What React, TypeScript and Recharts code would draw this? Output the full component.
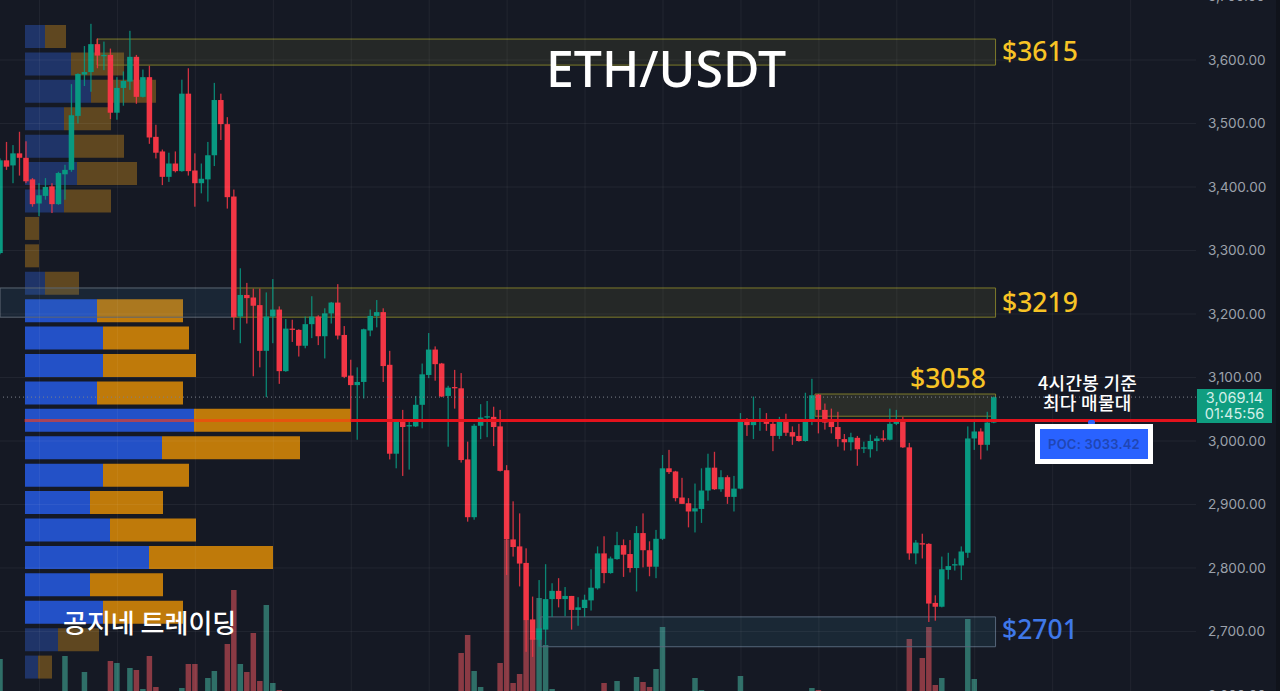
import { Bar, Cell, ComposedChart, ReferenceArea, ReferenceLine, XAxis, YAxis } from 'recharts';

const opens = [
  3296, 3442, 3434, 3453, 3446, 3412, 3374, 3386, 3401, 3373,
  3420, 3427, 3512, 3577, 3581, 3625, 3606, 3608, 3517, 3556,
  3566, 3605, 3542, 3573, 3479, 3456, 3416, 3437, 3425, 3547,
  3426, 3406, 3412, 3450, 3537, 3499, 3385, 3196, 3230, 3226,
  3214, 3142, 3196, 3207, 3110, 3177, 3175, 3150, 3184, 3196,
  3165, 3201, 3218, 3167, 3103, 3088, 3093, 3174, 3197, 3203,
  3120, 2980, 3032, 3024, 3023, 3057, 3104, 3144, 3122, 3071,
  3085, 3083, 2971, 2880, 3024, 3038, 3038, 3023, 2954, 2845,
  2834, 2808, 2719, 2687, 2703, 2751, 2764, 2751, 2756, 2734,
  2737, 2749, 2768, 2823, 2792, 2814, 2836, 2822, 2800, 2855,
  2828, 2802, 2846, 2957, 2952, 2911, 2902, 2889, 2893, 2922,
  2958, 2924, 2943, 2912, 2925, 3032, 3025, 3031, 3033, 3027,
  3008, 3031, 3014, 3008, 3000, 3032, 3073, 3049, 3030, 3022,
  3003, 2998, 3005, 2988, 2987, 3000, 3004, 3002, 3027, 3033,
  2990, 2823, 2839, 2838, 2745, 2739, 2797, 2805, 2804, 2824,
  3004, 3015, 2994, 3029,
];
const highs = [
  3445, 3471, 3466, 3487, 3472, 3414, 3406, 3414, 3406, 3424,
  3435, 3562, 3579, 3622, 3657, 3634, 3629, 3618, 3573, 3582,
  3646, 3608, 3585, 3591, 3498, 3459, 3454, 3456, 3569, 3587,
  3453, 3437, 3471, 3564, 3547, 3510, 3396, 3272, 3249, 3240,
  3240, 3234, 3255, 3212, 3192, 3191, 3176, 3196, 3228, 3198,
  3209, 3219, 3247, 3181, 3128, 3116, 3177, 3207, 3222, 3209,
  3142, 3032, 3049, 3030, 3071, 3122, 3170, 3149, 3123, 3087,
  3112, 3107, 2999, 3027, 3058, 3063, 3054, 3049, 2962, 2905,
  2886, 2831, 2755, 2781, 2806, 2776, 2784, 2770, 2756, 2754,
  2758, 2798, 2834, 2850, 2818, 2857, 2845, 2844, 2866, 2886,
  2842, 2860, 2978, 2986, 2953, 2942, 2910, 2933, 2957, 2980,
  2983, 2954, 2946, 2945, 3044, 3036, 3070, 3052, 3044, 3030,
  3038, 3043, 3023, 3027, 3076, 3098, 3074, 3059, 3051, 3046,
  3011, 3013, 3008, 2999, 3010, 3008, 3017, 3051, 3049, 3038,
  2997, 2844, 2854, 2839, 2757, 2818, 2824, 2815, 2834, 3023,
  3032, 3020, 3046, 3070,
];
const lows = [
  3294, 3427, 3406, 3418, 3406, 3369, 3354, 3380, 3359, 3372,
  3380, 3424, 3500, 3559, 3550, 3587, 3584, 3507, 3506, 3528,
  3553, 3531, 3541, 3468, 3445, 3403, 3408, 3423, 3424, 3418,
  3369, 3390, 3377, 3433, 3474, 3366, 3175, 3154, 3185, 3102,
  3116, 3069, 3154, 3090, 3109, 3156, 3133, 3146, 3162, 3151,
  3130, 3185, 3160, 3099, 3033, 3002, 3067, 3165, 3179, 3093,
  2971, 2957, 2945, 2955, 3022, 3020, 3099, 3095, 3069, 2991,
  3051, 2966, 2873, 2876, 3003, 3006, 2992, 2952, 2789, 2818,
  2771, 2668, 2660, 2676, 2679, 2723, 2738, 2724, 2703, 2709,
  2723, 2733, 2766, 2776, 2791, 2813, 2786, 2793, 2763, 2801,
  2787, 2784, 2844, 2948, 2905, 2901, 2864, 2856, 2871, 2906,
  2923, 2920, 2901, 2889, 2924, 3008, 3003, 3016, 3016, 2984,
  3003, 3008, 2994, 2999, 2999, 3025, 3012, 3018, 3012, 2991,
  2985, 2985, 2961, 2981, 2974, 2984, 2999, 3001, 3025, 2989,
  2813, 2806, 2815, 2715, 2717, 2738, 2782, 2796, 2781, 2816,
  2986, 2971, 2985, 3028,
];
const closes = [
  3442, 3432, 3453, 3446, 3409, 3373, 3387, 3400, 3373, 3422,
  3427, 3513, 3578, 3581, 3625, 3607, 3608, 3517, 3556, 3567,
  3605, 3542, 3573, 3478, 3454, 3416, 3437, 3425, 3547, 3425,
  3406, 3413, 3450, 3537, 3499, 3384, 3195, 3230, 3225, 3213,
  3142, 3196, 3207, 3110, 3177, 3175, 3150, 3184, 3196, 3165,
  3201, 3218, 3166, 3101, 3088, 3093, 3176, 3197, 3203, 3118,
  2980, 3030, 3022, 3025, 3057, 3105, 3144, 3121, 3070, 3084,
  3083, 2970, 2880, 3024, 3037, 3039, 3022, 2953, 2845, 2833,
  2807, 2718, 2687, 2705, 2751, 2764, 2751, 2756, 2734, 2738,
  2750, 2769, 2823, 2792, 2815, 2836, 2821, 2800, 2855, 2828,
  2802, 2846, 2957, 2951, 2910, 2901, 2889, 2894, 2922, 2958,
  2924, 2943, 2912, 2925, 3030, 3025, 3032, 3032, 3027, 3008,
  3030, 3013, 3007, 3000, 3032, 3072, 3049, 3029, 3022, 3003,
  2998, 3006, 2987, 2990, 3000, 3004, 3002, 3027, 3032, 2990,
  2823, 2840, 2837, 2744, 2739, 2798, 2803, 2806, 2826, 3004,
  3015, 2994, 3029, 3069,
];
const volumes = [
  72, 30, 28, 26, 30, 34, 28, 26, 30, 32,
  75, 38, 36, 59, 36, 32, 28, 70, 68, 30,
  63, 61, 42, 75, 44, 36, 28, 26, 43, 67,
  67, 30, 53, 60, 34, 87, 141, 67, 59, 98,
  50, 126, 48, 41, 36, 30, 28, 26, 30, 28,
  26, 28, 34, 36, 38, 34, 38, 30, 26, 38,
  38, 34, 30, 28, 32, 36, 34, 30, 32, 30,
  28, 78, 96, 60, 44, 30, 32, 68, 191, 48,
  57, 111, 93, 133, 86, 42, 30, 28, 32, 26,
  28, 34, 38, 48, 30, 50, 32, 30, 54, 49,
  44, 62, 104, 38, 34, 28, 30, 53, 41, 36,
  34, 30, 34, 30, 55, 32, 30, 24, 26, 28,
  26, 28, 24, 26, 34, 43, 41, 32, 30, 28,
  26, 24, 30, 22, 26, 22, 20, 34, 28, 36,
  92, 36, 73, 104, 46, 53, 32, 24, 36, 112,
  52, 34, 38, 36,
];

// volume profile, top row first
const profileBuy = [20, 46, 66, 39, 49, 52, 39, 0, 0, 20, 72, 78, 78, 72, 169, 137, 78, 65, 85, 124, 65, 78, 33, 13];
const profileSell = [21, 53, 65, 47, 50, 60, 47, 14, 14, 34, 86, 86, 93, 86, 157, 138, 86, 73, 86, 124, 73, 80, 41, 14];

const priceTicks = [2600, 2700, 2800, 2900, 3000, 3100, 3200, 3300, 3400, 3500, 3600, 3700];
const timeTicks = [6, 18, 30, 42, 54, 66, 78, 90, 102, 114, 126, 138, 150, 162, 174];

const lastPrice = 3069.14;
const pocLevel = 3032.2;

const zoneHigh = { top: 3633, bottom: 3592, from: 14.86, to: 153.2 };
const zoneMidLeft = { top: 3241, bottom: 3195, from: -0.07, to: 35.6 };
const zoneMid = { top: 3241, bottom: 3195, from: 35.6, to: 153.2 };
const zoneNear = { top: 3074, bottom: 3039, from: 125.4, to: 153.2 };
const zoneLow = { top: 2723, bottom: 2676, from: 83.1, to: 153.2 };

const candles = opens.map((open, i) => ({
  i,
  open,
  high: highs[i],
  low: lows[i],
  close: closes[i],
  volume: volumes[i],
}));
const profile = profileBuy.map((buy, i) => ({ row: i, buy, sell: profileSell[i] }));

const UP = '#089981';
const DOWN = '#f23645';
const GRID = 'rgba(255,255,255,0.055)';
const KR = '"Noto Sans CJK KR", "Noto Sans", sans-serif';
const LATIN = '"Noto Sans", sans-serif';
const X_DOMAIN = [-0.077, 184.06];

function Candle(props: any) {
  const { x, y, width, height, payload } = props;
  const { open, high, low, close } = payload;
  const color = close >= open ? UP : DOWN;
  const top = Math.min(y, y + height);
  const perPrice = Math.abs(height) / (high - low);
  const bodyTop = top + (high - Math.max(open, close)) * perPrice;
  const bodyH = Math.max(1.3, Math.abs(open - close) * perPrice);
  return (
    <g>
      <rect x={x + width / 2 - 0.65} y={top} width={1.3} height={Math.abs(height)} fill={color} opacity={0.85} />
      <rect x={x} y={bodyTop} width={width} height={bodyH} fill={color} />
    </g>
  );
}

function label(text: string, left: number, top: number, size: number, color: string, extra = {}) {
  return (
    <div
      style={{
        position: 'absolute',
        left,
        top,
        fontSize: size,
        lineHeight: 1,
        color,
        fontFamily: KR,
        whiteSpace: 'nowrap',
        ...extra,
      }}
    >
      {text}
    </div>
  );
}

export default function App() {
  return (
    <div style={{ position: 'absolute', left: 0, top: 0, width: 1280, height: 691, overflow: 'hidden', background: '#151924' }}>
      {/* volume profile sits under the candles */}
      <div style={{ position: 'absolute', left: 25, top: 23 }}>
        <ComposedChart
          width={420}
          height={658}
          data={profile}
          layout="vertical"
          margin={{ top: 0, right: 0, bottom: 0, left: 0 }}
          barCategoryGap={2}
        >
          <XAxis type="number" domain={[0, 420]} hide />
          <YAxis type="category" dataKey="row" hide />
          <Bar dataKey="buy" stackId="p" isAnimationActive={false}>
            {profile.map((d) => (
              <Cell key={d.row} fill={d.row < 10 || d.row > 21 ? '#1f3468' : '#2351c7'} />
            ))}
          </Bar>
          <Bar dataKey="sell" stackId="p" isAnimationActive={false}>
            {profile.map((d) => (
              <Cell key={d.row} fill={d.row < 10 || d.row > 21 ? '#5f4720' : '#bf7a0a'} />
            ))}
          </Bar>
        </ComposedChart>
      </div>

      {/* volume bars, own chart so they don't share a slot with the candles */}
      <div style={{ position: 'absolute', left: 0, top: -40 }}>
        <ComposedChart width={1280} height={771} data={candles} margin={{ top: 0, right: 84, bottom: 0, left: 0 }}>
          <XAxis dataKey="i" type="number" domain={X_DOMAIN} hide allowDataOverflow />
          <YAxis hide domain={[0, 771]} allowDataOverflow />
          <Bar dataKey="volume" barSize={5.5} isAnimationActive={false}>
            {candles.map((d) => (
              <Cell key={d.i} fill={d.close >= d.open ? '#2f6f68' : '#8a3a44'} />
            ))}
          </Bar>
        </ComposedChart>
      </div>

      <div style={{ position: 'absolute', left: 0, top: -40 }}>
        <ComposedChart width={1280} height={771} data={candles} margin={{ top: 0, right: 0, bottom: 0, left: 0 }}>
          <XAxis dataKey="i" type="number" domain={X_DOMAIN} hide allowDataOverflow />
          <YAxis
            orientation="right"
            width={84}
            domain={[2543.3, 3757.5]}
            ticks={priceTicks}
            allowDataOverflow
            axisLine={false}
            tickLine={false}
            tickMargin={6}
            tick={{ fill: '#9ca1ab', fontSize: 13.6, fontFamily: 'Inter' }}
            tickFormatter={(v: number) => v.toLocaleString('en-US', { minimumFractionDigits: 2 })}
          />

          {priceTicks.map((p) => (
            <ReferenceLine key={p} y={p} stroke={GRID} />
          ))}
          {timeTicks.map((t) => (
            <ReferenceLine key={t} x={t} stroke={GRID} />
          ))}

          <ReferenceArea x1={zoneHigh.from} x2={zoneHigh.to} y1={zoneHigh.bottom} y2={zoneHigh.top} fill="#8a8a40" fillOpacity={0.14} stroke="#7d7a2a" />
          <ReferenceArea x1={zoneMidLeft.from} x2={zoneMidLeft.to} y1={zoneMidLeft.bottom} y2={zoneMidLeft.top} fill="#3f6f9a" fillOpacity={0.15} stroke="#5c6672" />
          <ReferenceArea x1={zoneMid.from} x2={zoneMid.to} y1={zoneMid.bottom} y2={zoneMid.top} fill="#8a8a40" fillOpacity={0.14} stroke="#7d7a2a" />
          <ReferenceArea x1={zoneNear.from} x2={zoneNear.to} y1={zoneNear.bottom} y2={zoneNear.top} fill="#8a8a40" fillOpacity={0.18} stroke="#7d7a2a" />
          <ReferenceArea x1={zoneLow.from} x2={zoneLow.to} y1={zoneLow.bottom} y2={zoneLow.top} fill="#3f7f9a" fillOpacity={0.15} stroke="#56667a" />

          <ReferenceLine y={lastPrice} stroke="#7d828c" strokeDasharray="1 3" />
          <ReferenceLine
            segment={[{ x: 3.7, y: pocLevel }, { x: 53.9, y: pocLevel }]}
            stroke="#ff3c10"
            strokeOpacity={0.6}
            strokeWidth={3}
          />
          <ReferenceLine
            segment={[{ x: 53.9, y: pocLevel }, { x: 184.06, y: pocLevel }]}
            stroke="#e3121c"
            strokeWidth={3}
          />

          <Bar dataKey={(d: any) => [d.low, d.high]} barSize={5.5} shape={<Candle />} isAnimationActive={false} />
        </ComposedChart>
      </div>

      {label('ETH/USDT', 546, 43, 50, '#ffffff', { fontFamily: LATIN, fontWeight: 500 })}
      {label('$3615', 1002, 38, 26.5, '#f7c325', { fontFamily: LATIN, fontWeight: 500 })}
      {label('$3219', 1002, 289, 26.5, '#f7c325', { fontFamily: LATIN, fontWeight: 500 })}
      {label('$3058', 910, 365, 26.5, '#f7c325', { fontFamily: LATIN, fontWeight: 500 })}
      {label('$2701', 1002, 616, 26.5, '#3f78e8', { fontFamily: LATIN, fontWeight: 500 })}
      {label('4시간봉 기준', 1038, 373, 18, '#ffffff', { fontWeight: 500, letterSpacing: 0.3 })}
      {label('최다 매물대', 1043, 393, 18, '#ffffff', { fontWeight: 500, letterSpacing: 0.3 })}
      {label('공지네 트레이딩', 63, 609, 26, '#ffffff', { fontWeight: 500 })}

      <div style={{ position: 'absolute', left: 1088, top: 420, width: 7, height: 5, background: '#2962ff', borderRadius: 2 }} />
      <div
        style={{
          position: 'absolute',
          left: 1035,
          top: 424,
          width: 108,
          height: 30,
          border: '5px solid #ffffff',
          background: '#2962ff',
          color: '#2046b4',
          fontFamily: 'Inter',
          fontWeight: 600,
          fontSize: 13,
          letterSpacing: 0.2,
          lineHeight: '30px',
          textAlign: 'center',
        }}
      >
        POC: 3033.42
      </div>

      <div
        style={{
          position: 'absolute',
          left: 1197,
          top: 389,
          width: 75,
          height: 34,
          background: '#0f9d80',
          color: '#d3efe8',
          fontFamily: 'Inter',
          fontSize: 14.5,
          lineHeight: '15.5px',
          paddingTop: 1,
          textAlign: 'center',
          boxSizing: 'border-box',
        }}
      >
        3,069.14
        <br />
        01:45:56
      </div>
      <div style={{ position: 'absolute', left: 1276, top: 0, width: 4, height: 691, background: '#10131b' }} />
    </div>
  );
}
